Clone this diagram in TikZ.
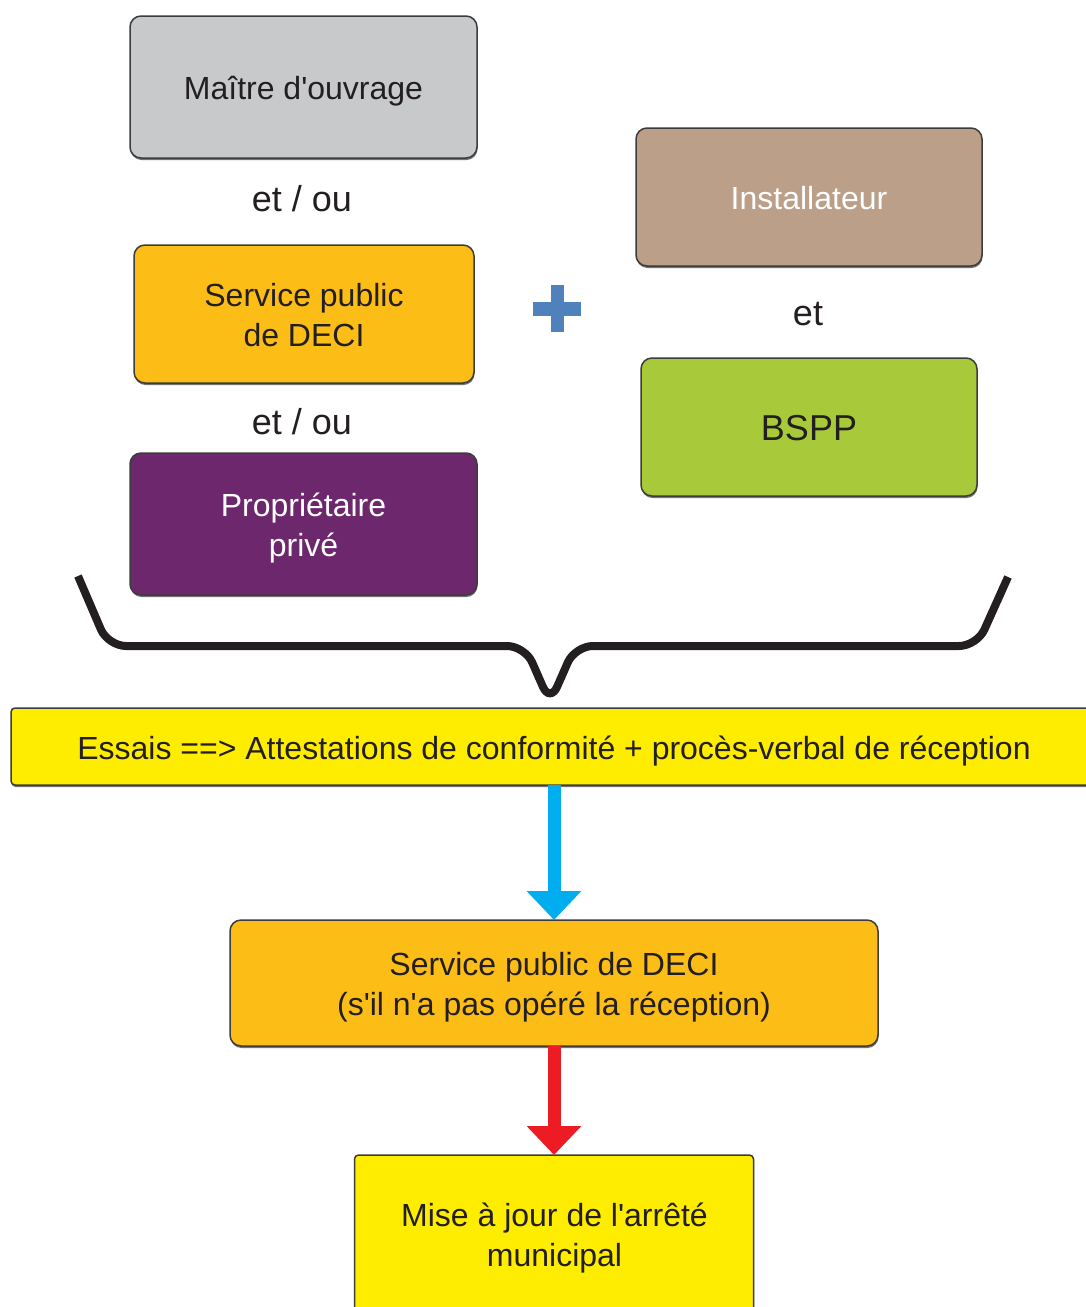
\documentclass[tikz,border=0pt]{standalone}
\usepackage{fontspec}
\setmainfont{Liberation Sans}[Ligatures=TeXOff]
\usetikzlibrary{arrows.meta,shadows,calc}
\definecolor{boxgray}{HTML}{C8C9CB}
\definecolor{boxorange}{HTML}{FBBD16}
\definecolor{boxpurple}{HTML}{6C276D}
\definecolor{boxtan}{HTML}{BC9F89}
\definecolor{boxgreen}{HTML}{A8CA3A}
\definecolor{boxyellow}{HTML}{FFED00}
\definecolor{plusblue}{HTML}{4F81BD}
\definecolor{boxline}{HTML}{3C3C3C}
\definecolor{txt}{HTML}{231F20}
\definecolor{arrblue}{HTML}{00AEEF}
\definecolor{arrred}{HTML}{ED1C24}
\begin{document}
\begin{tikzpicture}[x=1pt,y=-1pt,
  box/.style={draw=boxline, line width=1.5pt, rounded corners=11pt, outer sep=0pt,
    drop shadow={shadow xshift=0.5pt, shadow yshift=-2pt, opacity=0.55, fill=black},
    font=\fontsize{32}{40}\selectfont, align=center, text=txt, inner sep=0pt},
  oneline/.style={text height=25pt, text depth=1pt},
  twoline/.style={text height=66pt, text depth=2pt},
  flatbox/.style={box, rounded corners=4pt},
  conj/.style={font=\fontsize{36}{40}\selectfont, text=txt, inner sep=0pt},
  fat/.style={line width=13pt, -{Triangle[length=29pt,width=53pt]}},
]
\useasboundingbox (0,0) rectangle (1086,1307);

% left column
\node[box, oneline, fill=boxgray, minimum width=347pt, minimum height=142pt] (maitre) at (303.5,87) {Maître d'ouvrage};
\node[conj] (etou1) at (302,199) {et / ou};
\node[box, twoline, fill=boxorange, minimum width=340pt, minimum height=138pt] (spub) at (304,314) {Service public\\de DECI};
\node[conj] (etou2) at (302,422) {et / ou};
\node[box, twoline, fill=boxpurple, text=white, minimum width=347pt, minimum height=142pt] (prop) at (303.5,524) {Propriétaire\\privé};

% right column
\node[box, oneline, fill=boxtan, text=white, minimum width=346pt, minimum height=138pt] (inst) at (809,197) {Installateur};
\node[conj] (et) at (808,314) {et};
\node[box, fill=boxgreen, minimum width=336pt, minimum height=138pt, font=\fontsize{36}{40}\selectfont, text height=29pt, text depth=2pt] (bspp) at (809,427) {BSPP};

% plus sign
\fill[plusblue] (533,302) rectangle (581,316);
\fill[plusblue] (551,285) rectangle (564,332);

% brace
\draw[line width=8pt, color=txt, line cap=butt, rounded corners=18pt]
  (78,576) -- (108,646) -- (525,646) -- (550,703) -- (575,646) -- (977,646) -- (1008,577);

% lower flow
\node[flatbox, fill=boxyellow, minimum width=1086pt, minimum height=77pt, text height=28pt, text depth=2pt] (essais) at (554,746.5)
  {Essais ==> Attestations de conformité + procès-verbal de réception};
\node[box, twoline, fill=boxorange, minimum width=648pt, minimum height=126pt] (deci) at (554,983)
  {Service public de DECI\\(s'il n'a pas opéré la réception)};
\node[flatbox, fill=boxyellow, minimum width=399pt, minimum height=200pt, anchor=north] (mise) at (554,1155) {};
\node[font=\fontsize{32}{40}\selectfont, align=center, text=txt, inner sep=0pt, twoline] (misetxt) at (554.5,1234) {Mise à jour de l'arrêté\\municipal};

\draw[fat, arrblue] (essais.south) -- (deci.north);
\draw[fat, arrred] (deci.south) -- (mise.north);
\end{tikzpicture}
\end{document}
